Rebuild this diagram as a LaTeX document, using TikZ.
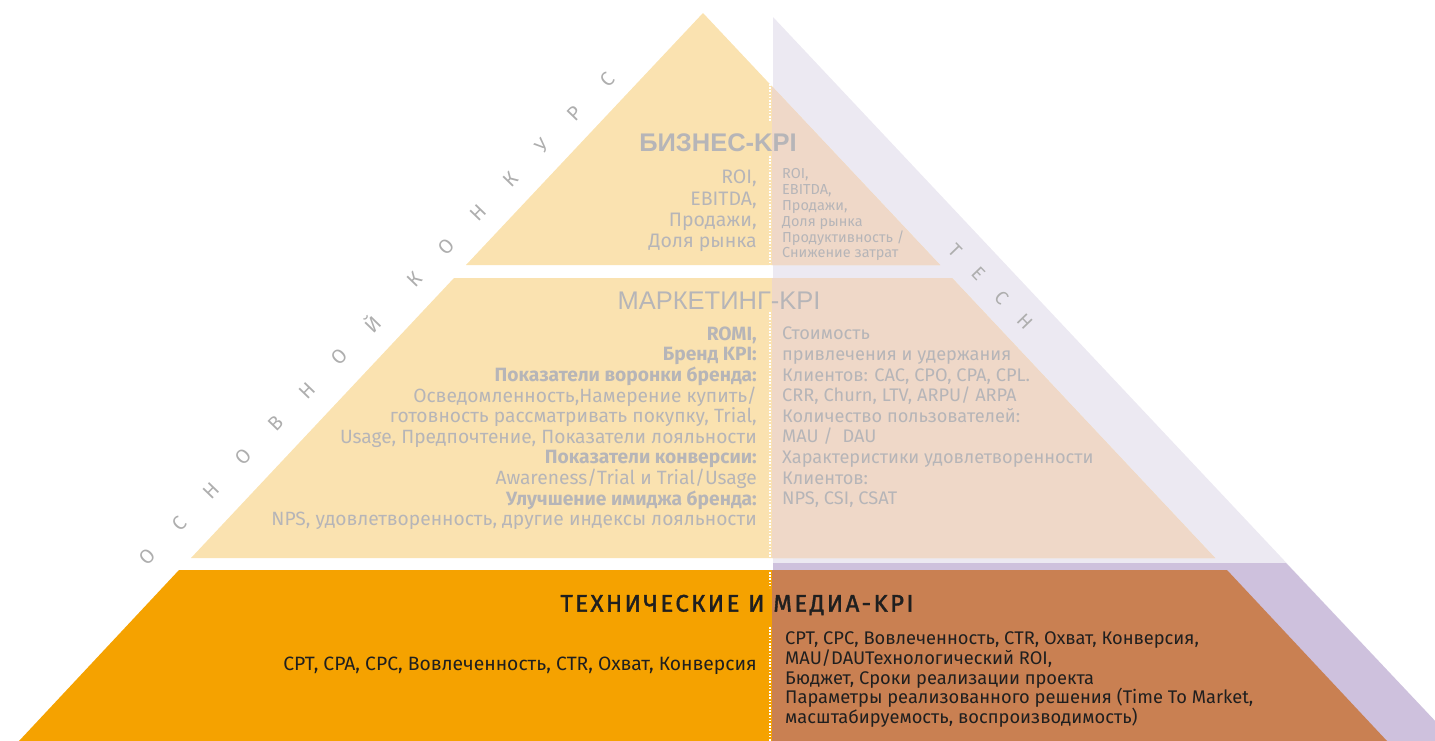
\documentclass[tikz,border=0pt]{standalone}
\usepackage{fontspec}
\setmainfont{Fira Sans}
\newfontfamily\headfont{Liberation Sans}
\newfontfamily\widefont[LetterSpace=10,FakeBold=1.6]{Fira Sans}
\usetikzlibrary{positioning}

\definecolor{lightyel}{HTML}{FAE2B0}
\definecolor{peach}{HTML}{EFD8C8}
\definecolor{lav}{HTML}{ECE9F2}
\definecolor{lavdark}{HTML}{CEC1DD}
\definecolor{mediaorange}{HTML}{F5A200}
\definecolor{mediabrown}{HTML}{C98052}
\definecolor{fadetext}{HTML}{B6B5B8}
\definecolor{sidetext}{HTML}{AEAEAE}

\begin{document}
\begin{tikzpicture}[x=1pt,y=-1pt,
    kpi/.style={inner sep=0pt,text=fadetext,font=\fontsize{19.2}{20.6}\selectfont},
    kpismall/.style={inner sep=0pt,text=fadetext,font=\fontsize{14.5}{15.8}\selectfont},
    media/.style={inner sep=0pt,text=black!88,font=\fontsize{18.3}{19.8}\selectfont},
    title/.style={inner sep=0pt,text=fadetext,font=\headfont\fontsize{25.5}{25.5}\selectfont},
    sideletter/.style={inner sep=0pt,text=sidetext,font=\fontsize{20}{20}\selectfont},
    dots/.style={white,line width=1.6pt,dash pattern=on 1.6pt off 1.6pt}]
\useasboundingbox (0,0) rectangle (1435,741);
\clip (0,0) rectangle (1435,741);

% tech band behind the right half
\fill[lav] (773,17) -- (1454,741) -- (773,741) -- cycle;
\fill[lavdark] (773,563) -- (1286,563) -- (1454,741) -- (773,741) -- cycle;

% upper two tiers
\fill[lightyel] (703,13) -- (940,265) -- (466,265) -- cycle;
\fill[lightyel] (454,278) -- (952,278) -- (1215,558) -- (191,558) -- cycle;
\begin{scope}
  \clip (772,0) rectangle (1435,741);
  \fill[peach] (703,13) -- (940,265) -- (466,265) -- cycle;
  \fill[peach] (454,278) -- (952,278) -- (1215,558) -- (191,558) -- cycle;
\end{scope}

% media tier
\fill[mediaorange] (179,570) -- (772,570) -- (772,741) -- (19,741) -- cycle;
\fill[mediabrown] (772,570) -- (1227,570) -- (1387,741) -- (772,741) -- cycle;

% split line
\draw[dots] (770,84) -- (770,122);
\draw[dots] (770,156) -- (770,265);
\draw[dots] (770,312) -- (770,558);
\draw[dots] (770,572) -- (770,588);
\draw[dots] (770,627) -- (770,741);

% business tier
\node[title,font=\headfont\bfseries\fontsize{25.5}{25.5}\selectfont] (biz) at (718,143) {БИЗНЕС-KPI};
\node[kpi,font=\fontsize{19.5}{21.3}\selectfont,align=right,anchor=north east] (bizL) at (757,170)
  {ROI,\\EBITDA,\\Продажи,\\Доля рынка};
\node[kpismall,align=left,anchor=north west] (bizR) at (782,168.5)
  {ROI,\\EBITDA,\\Продажи,\\Доля рынка\\Продуктивность /\\Снижение затрат};

% marketing tier
\node[title] (mkt) at (719,301) {МАРКЕТИНГ-KPI};
\node[kpi,align=right,anchor=north east] (mktL) at (757,326.5)
  {\textbf{ROMI,}\\
   \textbf{Бренд KPI:}\\
   \textbf{Показатели воронки бренда:}\\
   Осведомленность,Намерение купить/\\
   готовность рассматривать покупку, Trial,\\
   Usage, Предпочтение, Показатели лояльности\\
   \textbf{Показатели конверсии:}\\
   Awareness/Trial и Trial/Usage\\
   \textbf{Улучшение имиджа бренда:}\\
   NPS, удовлетворенность, другие индексы лояльности};
\node[kpi,font=\fontsize{18.2}{20.6}\selectfont,align=left,anchor=north west] (mktR) at (782,327)
  {Стоимость\\
   привлечения и удержания\\
   Клиентов: CAC, CPO, CPA, CPL.\\
   CRR, Churn, LTV, ARPU/ ARPA\\
   Количество пользователей:\\
   MAU /~ DAU\\
   Характеристики удовлетворенности\\
   Клиентов:\\
   NPS, CSI, CSAT};

% media tier text
\node[media,font=\widefont\fontsize{24}{24}\selectfont] (tech) at (737,605) {ТЕХНИЧЕСКИЕ И МЕДИА-KPI};
\node[media,font=\fontsize{19.3}{19.8}\selectfont,anchor=base east] (techL) at (757,670.5)
  {CPT, CPA, CPC, Вовлеченность, CTR, Охват, Конверсия};
\node[media,align=left,anchor=north west] (techR) at (785,631.5)
  {CPT, CPC, Вовлеченность, CTR, Охват, Конверсия,\\
   MAU/DAUТехнологический ROI,\\
   Бюджет, Сроки реализации проекта\\
   Параметры реализованного решения (Time To Market,\\
   масштабируемость, воспроизводимость)};

% side captions
\foreach \ch [count=\i from 0] in {О,С,Н,О,В,Н,О,Й}
  \node[sideletter,rotate=46] (ls\i) at ({147+32.1*\i},{557-33.3*\i}) {\ch};
\foreach \ch [count=\i from 0] in {К,О,Н,К,У,Р,С}
  \node[sideletter,rotate=46] (lk\i) at ({147+32.1*(\i+8.33)},{557-33.3*(\i+8.33)}) {\ch};
\foreach \ch [count=\i from 0] in {Т,Е,С,Н}
  \node[sideletter,font=\fontsize{19}{19}\selectfont,rotate=-46] (rt\i) at ({955+23.3*\i},{250+24*\i}) {\ch};
\end{tikzpicture}
\end{document}
